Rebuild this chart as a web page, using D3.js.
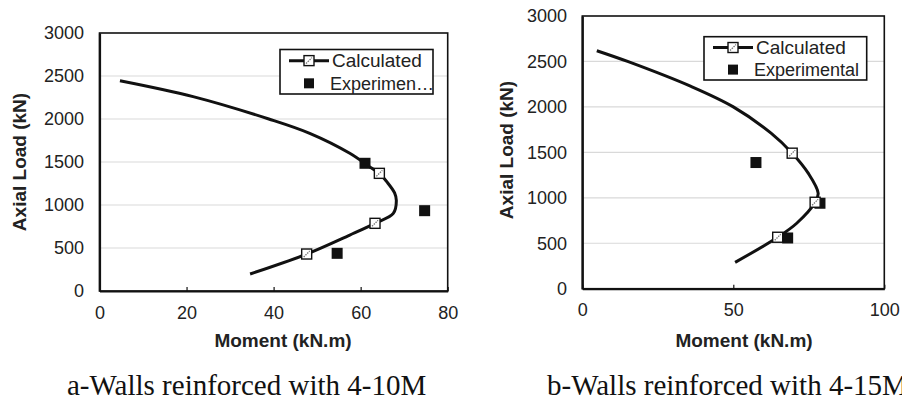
<!DOCTYPE html>
<html><head><meta charset="utf-8">
<script src="https://cdn.jsdelivr.net/npm/d3@7"></script>
<style>
body{margin:0;background:#fff;}
svg{display:block;}
</style></head>
<body>
<svg id="chart" width="902" height="402"></svg>
<script>
// ---------- data ----------
const yTicks = [0, 500, 1000, 1500, 2000, 2500, 3000];
const xTicksA = [0, 20, 40, 60, 80];
const xTicksB = [0, 50, 100];

// Chart a: calculated interaction curve (moment kN.m, axial load kN)
const curveA_M = [4.7, 21.5, 38.9, 48.3, 57.5, 62.0, 64.3, 66.0, 67.8, 68.2, 67.5, 63.3, 57.5, 47.6, 34.6];
const curveA_P = [2445, 2260, 2000, 1833, 1601, 1446, 1368, 1271, 1140, 1050, 903, 787, 651, 430, 198];
const calcA_M = [64.3, 63.3, 47.6];
const calcA_P = [1368, 787, 430];
const expA_M = [61.0, 74.7, 54.6];
const expA_P = [1485, 934, 438];

// Chart b
const curveB_M = [4.8, 15.0, 36.0, 50.0, 62.5, 69.5, 74.8, 78.1, 77.1, 71.0, 64.7, 50.6];
const curveB_P = [2618, 2500, 2225, 2000, 1711, 1491, 1271, 1050, 951, 720, 566, 290];
const calcB_M = [69.5, 77.1, 64.7];
const calcB_P = [1491, 951, 566];
const expB_M = [57.5, 78.7, 68.0];
const expB_P = [1388, 940, 558];

const legendLabelsA = ["Calculated", "Experimen\u2026"];
const legendLabelsB = ["Calculated", "Experimental"];
const xTitle = "Moment (kN.m)";
const yTitle = "Axial Load (kN)";
const captions = ["a-Walls reinforced with 4-10M", "b-Walls reinforced with 4-15M"];

// ---------- drawing ----------
const svg = d3.select("#chart");
const zip = (a, b) => a.map((v, i) => [v, b[i]]);
const SANS = "'Liberation Sans', Arial, sans-serif";
const SERIF = "'Liberation Serif', 'Times New Roman', serif";

function drawChart(cfg) {
  const g = svg.append("g");
  const x = d3.scaleLinear().domain(cfg.xDomain).range([cfg.left, cfg.right]);
  const y = d3.scaleLinear().domain([0, 3000]).range([cfg.bottom, cfg.top]);

  // gridlines
  g.append("g").selectAll("line").data(yTicks.slice(1, -1)).join("line")
    .attr("x1", cfg.left).attr("x2", cfg.right)
    .attr("y1", d => y(d)).attr("y2", d => y(d))
    .attr("stroke", "#d9d9d9").attr("stroke-width", 1.2);

  // plot frame
  g.append("rect").attr("x", cfg.left).attr("y", cfg.top)
    .attr("width", cfg.right - cfg.left).attr("height", cfg.bottom - cfg.top)
    .attr("fill", "none").attr("stroke", "#111").attr("stroke-width", 1.6);

  // x axis
  const xAxis = d3.axisBottom(x).tickValues(cfg.xTicks).tickFormat(d3.format("d"))
    .tickSizeInner(-4).tickSizeOuter(0).tickPadding(15);
  const xa = g.append("g").attr("transform", `translate(0,${cfg.bottom})`).call(xAxis);
  xa.select(".domain").attr("stroke", "#111").attr("stroke-width", 2.2);
  xa.selectAll(".tick line").attr("stroke", "#111").attr("stroke-width", 1.2);
  xa.selectAll(".tick text").style("font-size", "18px").style("fill", "#222").style("font-family", SANS);

  // y axis
  const yAxis = d3.axisLeft(y).tickValues(yTicks).tickFormat(d3.format("d"))
    .tickSize(0).tickPadding(cfg.left - cfg.yLabelRight);
  const ya = g.append("g").attr("transform", `translate(${cfg.left},0)`).call(yAxis);
  ya.select(".domain").attr("stroke", "#111").attr("stroke-width", 2.2);
  ya.selectAll(".tick text").style("font-size", "18px").style("fill", "#222").style("font-family", SANS);

  // titles
  g.append("text").attr("x", cfg.xTitleX).attr("y", 347).attr("text-anchor", "middle")
    .style("font-family", SANS).style("font-size", "19px").style("font-weight", "bold").style("fill", "#222")
    .text(xTitle);
  g.append("text").attr("transform", `translate(${cfg.yTitleX},${cfg.yTitleY}) rotate(-90)`)
    .attr("text-anchor", "middle")
    .style("font-family", SANS).style("font-size", "19px").style("font-weight", "bold").style("fill", "#222")
    .text(yTitle);

  // caption
  g.append("text").attr("x", cfg.captionX).attr("y", 395)
    .style("font-family", SERIF).style("font-size", "29px").style("fill", "#111")
    .text(cfg.caption);

  // curve
  const line = d3.line().x(d => x(d[0])).y(d => y(d[1])).curve(d3.curveCatmullRom.alpha(0.5));
  g.append("path").datum(zip(cfg.curveM, cfg.curveP)).attr("d", line)
    .attr("fill", "none").attr("stroke", "#111").attr("stroke-width", 3);

  // experimental markers
  g.append("g").selectAll("rect").data(zip(cfg.expM, cfg.expP)).join("rect")
    .attr("x", d => x(d[0]) - 5.5).attr("y", d => y(d[1]) - 5.5)
    .attr("width", 11).attr("height", 11).attr("fill", "#111");

  // calculated markers
  const cm = g.append("g").selectAll("g").data(zip(cfg.calcM, cfg.calcP)).join("g")
    .attr("transform", d => `translate(${x(d[0])},${y(d[1])})`);
  drawCalcMarker(cm);

  // legend
  const lg = g.append("g");
  lg.append("rect").attr("x", cfg.legend.x).attr("y", cfg.legend.y)
    .attr("width", cfg.legend.w).attr("height", cfg.legend.h)
    .attr("fill", "#fff").attr("stroke", "#111").attr("stroke-width", 1.6);
  const ly1 = cfg.legend.y + cfg.legend.h * 0.25, ly2 = cfg.legend.y + cfg.legend.h * 0.76;
  const lx = cfg.legend.x + 29;
  lg.append("line").attr("x1", lx - 20).attr("x2", lx + 20).attr("y1", ly1).attr("y2", ly1)
    .attr("stroke", "#111").attr("stroke-width", 3);
  drawCalcMarker(lg.append("g").attr("transform", `translate(${lx},${ly1})`));
  lg.append("rect").attr("x", lx - 5).attr("y", ly2 - 5).attr("width", 10).attr("height", 10).attr("fill", "#111");
  lg.append("text").attr("x", lx + 23).attr("y", ly1).attr("dy", "0.35em")
    .style("font-family", SANS).style("font-size", "19px").style("fill", "#222").text(cfg.legendLabels[0]);
  lg.append("text").attr("x", lx + 21).attr("y", ly2).attr("dy", "0.35em")
    .style("font-family", SANS).style("font-size", "18px").style("fill", "#222").text(cfg.legendLabels[1]);
}

function drawCalcMarker(sel) {
  sel.append("rect").attr("x", -5).attr("y", -5).attr("width", 10).attr("height", 10)
    .attr("fill", "#fff").attr("stroke", "#111").attr("stroke-width", 1.4);
  sel.append("line").attr("x1", -3).attr("y1", 3).attr("x2", 3).attr("y2", -3)
    .attr("stroke", "#777").attr("stroke-width", 1.3).attr("stroke-dasharray", "1.5,1");
}

drawChart({
  xDomain: [0, 80], xTicks: xTicksA, left: 99.5, right: 447.7, top: 33, bottom: 291,
  yLabelRight: 84, xTitleX: 283, yTitleX: 26, yTitleY: 162,
  caption: captions[0], captionX: 67,
  curveM: curveA_M, curveP: curveA_P, calcM: calcA_M, calcP: calcA_P, expM: expA_M, expP: expA_P,
  legend: {x: 280, y: 49.5, w: 153, h: 44.5}, legendLabels: legendLabelsA
});
drawChart({
  xDomain: [0, 100], xTicks: xTicksB, left: 582.3, right: 884.3, top: 16, bottom: 288.7,
  yLabelRight: 567, xTitleX: 744, yTitleX: 513, yTitleY: 150,
  caption: captions[1], captionX: 547,
  curveM: curveB_M, curveP: curveB_P, calcM: calcB_M, calcP: calcB_P, expM: expB_M, expP: expB_P,
  legend: {x: 704, y: 36.7, w: 162.7, h: 43.3}, legendLabels: legendLabelsB
});
</script>
</body></html>
